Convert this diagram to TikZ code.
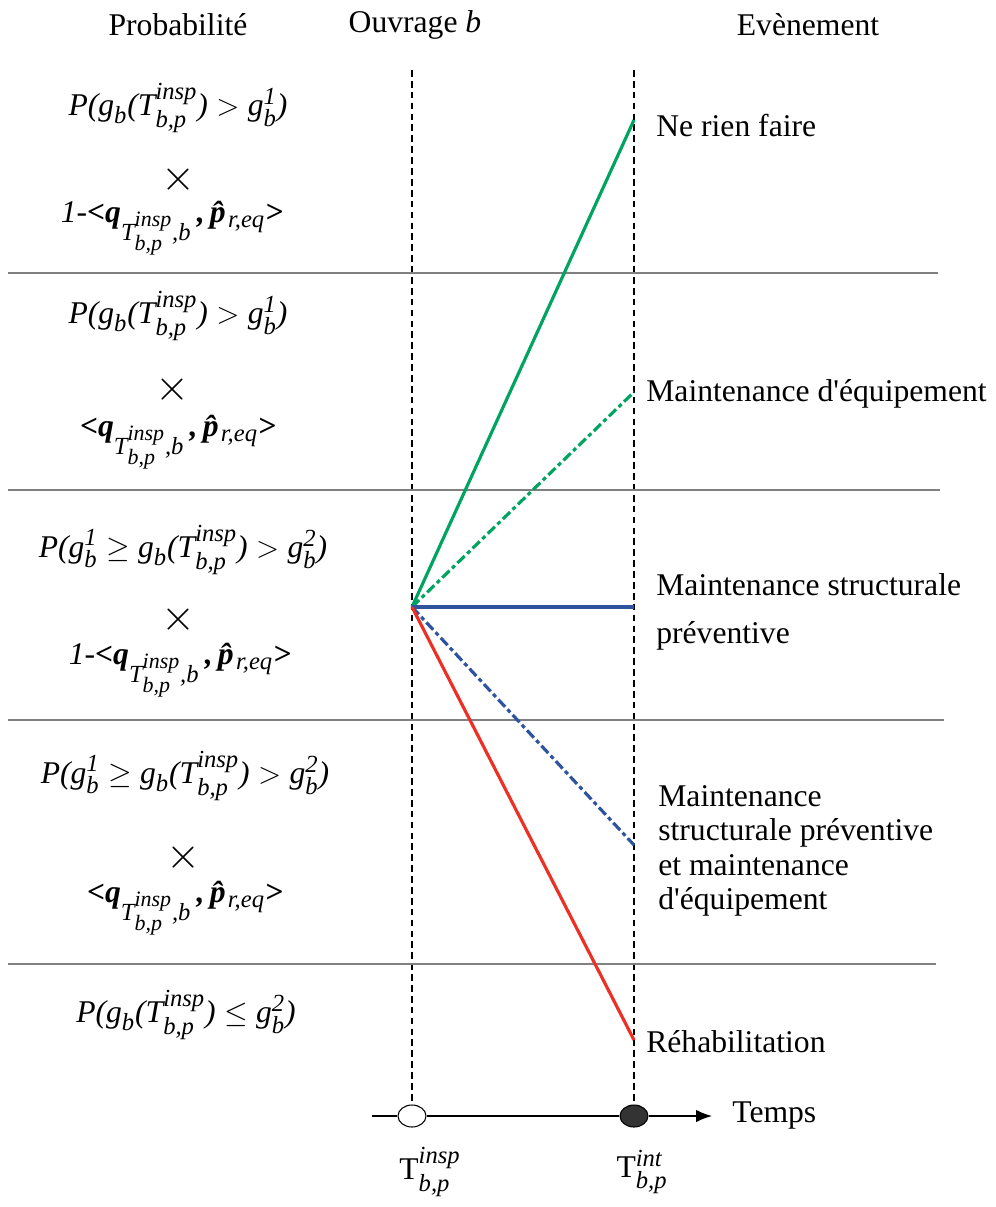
\documentclass[tikz,border=0pt]{standalone}
\usepackage{amsmath}
\usepackage{fontspec}
\setmainfont{Liberation Serif}[Ligatures=TeXOff]
\usepackage{tikz}
\usetikzlibrary{arrows.meta,positioning,shapes.geometric}
\DeclareMathSizes{18}{18}{14}{12.5}

\definecolor{brgreen}{RGB}{0,163,96}
\definecolor{brblue}{RGB}{46,84,160}
\definecolor{brred}{RGB}{236,48,36}
\newcommand{\itx}[1]{\textit{#1}}
\newcommand{\bix}[1]{\textbf{\textit{#1}}}
\newcommand{\Tinsp}{\itx{T}^{\itx{insp}}_{\itx{b,p}}}
\newcommand{\qscal}{\bix{<q}_{\Tinsp\itx{,b}}\bix{\,,\,\^{p}}\mkern-3mu_{\itx{r,eq}}\bix{>}}

\begin{document}
\begin{tikzpicture}[
    x=0.02cm,y=-0.02cm,
    lbl/.style={font=\fontsize{18}{19.5}\selectfont,inner sep=0pt},
    event/.style={lbl,anchor=west,align=left},
    frm/.style={font=\fontsize{18}{19.5}\selectfont,inner sep=0pt},
    times/.style={font=\fontsize{30}{30}\selectfont,inner sep=0pt},
    sep/.style={black!50,line width=0.6pt},
    timeline/.style={dash pattern=on 3.8pt off 2.4pt,line width=0.6pt},
    branch/.style={line width=1.8pt},
    dashdot/.style={branch,dash pattern=on 5.7pt off 2pt on 2.3pt off 2pt},
    instant/.style={ellipse,draw,line width=0.6pt,minimum width=0.56cm,minimum height=0.44cm,inner sep=0pt}
]
\useasboundingbox (0,0) rectangle (996,1207);

% headers
\node[lbl] (hprob) at (178,25) {Probabilité};
\node[lbl] (hbridge) at (415,25) {Ouvrage \itx{b}};
\node[lbl] (hevent) at (808,25) {Evènement};

% time axis
\node[instant,fill=white] (tinsp) at (412,1116) {};
\node[instant,fill=black!80] (tint) at (634,1116) {};
\coordinate (axstart) at (372,1116);
\coordinate (axend) at (712,1116);
\draw[line width=0.8pt] (axstart) -- (tinsp.west);
\draw[line width=0.8pt] (tinsp.east) -- (tint.west);
\draw[line width=0.8pt,-{Latex[length=9pt,width=7pt]}] (tint.east) -- (axend);
\node[lbl,anchor=west] (temps) at (732,1115) {Temps};
\node[lbl] (linsp) at (430,1172) {T$^{\itx{insp}}_{\itx{b,p}}$};
\node[lbl] (lint) at (642,1172) {T$^{\itx{int}}_{\itx{b,p}}$};

\coordinate (topinsp) at (412,70);
\coordinate (topint) at (634,70);
\draw[timeline] (topinsp) -- (tinsp.north);
\draw[timeline] (topint) -- (tint.north);

% separators
\coordinate (s1a) at (8,273); \coordinate (s1b) at (938,273);
\coordinate (s2a) at (8,490); \coordinate (s2b) at (940,490);
\coordinate (s3a) at (8,720); \coordinate (s3b) at (944,720);
\coordinate (s4a) at (8,964); \coordinate (s4b) at (936,964);
\draw[sep] (s1a) -- (s1b);
\draw[sep] (s2a) -- (s2b);
\draw[sep] (s3a) -- (s3b);
\draw[sep] (s4a) -- (s4b);

% branches
\coordinate (orig) at (412,607);
\coordinate (enone) at (634,120);
\coordinate (eequip) at (634,392);
\coordinate (estruct) at (634,607);
\coordinate (eboth) at (634,845);
\coordinate (erehab) at (634,1040);
\draw[branch,brgreen] (orig) -- (enone);
\draw[dashdot,brgreen] (orig) -- (eequip);
\draw[branch,brblue] (orig) -- (estruct);
\draw[dashdot,brblue] (orig) -- (eboth);
\draw[branch,brred] (orig) -- (erehab);

% events
\node[event] (lnone) at (656,126) {Ne rien faire};
\node[event] (lequip) at (646,394) {Maintenance d'équipement};
\node[event] (lstruct) at (656,612) {Maintenance structurale\\[0.28cm]préventive};
\node[event] (lboth) at (658,851) {Maintenance\\structurale préventive\\et maintenance\\d'équipement};
\node[event] (lrehab) at (646,1042) {Réhabilitation};

% probabilities
\node[frm] (p1a) at (178,108) {$\itx{P(g}_{\itx{b}}\itx{(}\Tinsp\itx{)} > \itx{g}^{\itx{1}}_{\itx{b}}\itx{)}$};
\node[times] (p1b) at (178,180) {$\times$};
\node[frm] (p1c) at (172,228) {$\itx{1-}\qscal$};

\node[frm] (p2a) at (178,316) {$\itx{P(g}_{\itx{b}}\itx{(}\Tinsp\itx{)} > \itx{g}^{\itx{1}}_{\itx{b}}\itx{)}$};
\node[times] (p2b) at (172,390) {$\times$};
\node[frm] (p2c) at (178,442) {$\qscal$};

\node[frm] (p3a) at (183,550) {$\itx{P(g}^{\itx{1}}_{\itx{b}} \geq \itx{g}_{\itx{b}}\itx{(}\Tinsp\itx{)} > \itx{g}^{\itx{2}}_{\itx{b}}\itx{)}$};
\node[times] (p3b) at (178,620) {$\times$};
\node[frm] (p3c) at (180,670) {$\itx{1-}\qscal$};

\node[frm] (p4a) at (185,776) {$\itx{P(g}^{\itx{1}}_{\itx{b}} \geq \itx{g}_{\itx{b}}\itx{(}\Tinsp\itx{)} > \itx{g}^{\itx{2}}_{\itx{b}}\itx{)}$};
\node[times] (p4b) at (183,858) {$\times$};
\node[frm] (p4c) at (185,908) {$\qscal$};

\node[frm] (p5a) at (186,1015) {$\itx{P(g}_{\itx{b}}\itx{(}\Tinsp\itx{)} \leq \itx{g}^{\itx{2}}_{\itx{b}}\itx{)}$};
\end{tikzpicture}
\end{document}
